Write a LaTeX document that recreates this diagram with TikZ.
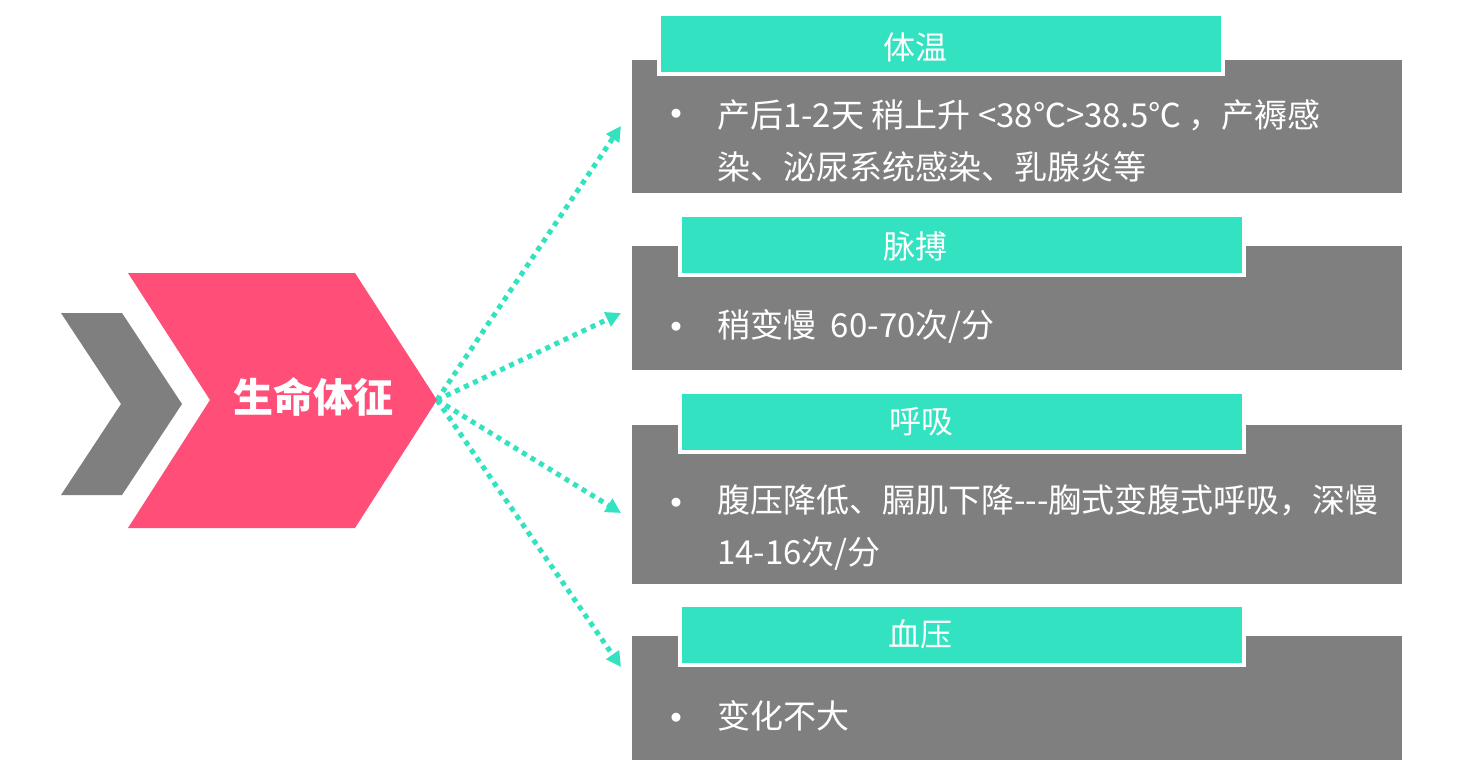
\documentclass[tikz,border=0pt]{standalone}
\usepackage{fontspec}
\setmainfont{Noto Sans CJK SC}
\usepackage{xcolor}
\definecolor{vitgray}{HTML}{7F7F7F}
\definecolor{vitteal}{HTML}{32E2C0}
\definecolor{vitpink}{HTML}{FF4F78}
\usepackage{tikz}
\usetikzlibrary{arrows.meta,positioning}

\begin{document}
\begin{tikzpicture}[x=1pt, y=-1pt,
      body/.style={fill=vitgray, anchor=north west, inner sep=0pt, outer sep=0pt,
                   minimum width=770pt},
      head/.style={fill=vitteal, draw=white, line width=4pt, anchor=north west,
                   inner sep=0pt, outer sep=0pt, minimum width=564pt, minimum height=60pt},
      ttl/.style={text=white, inner sep=0pt, font=\fontsize{32}{38}\selectfont},
      txt/.style={text=white, anchor=west, align=left, inner sep=0pt,
                  font=\fontsize{33}{52}\selectfont},
      bul/.style={text=white, inner sep=0pt, font=\fontsize{10}{10}\selectfont},
      arr/.style={-{Triangle[length=15pt,width=15pt]}, line width=5pt,
                  dash pattern=on 5pt off 5pt, color=vitteal}
  ]
    \fill[white] (0,0) rectangle (1462,777);
    \useasboundingbox (0,0) rectangle (1462,777);
    \fill[vitgray] (61,313) -- (122,313) -- (182,404) -- (122,495) -- (61,495) -- (121,404) -- cycle;
    \coordinate (tip) at (437,400);
    \coordinate (e1) at (621,126); \coordinate (e2) at (621,313);
    \coordinate (e3) at (621,513); \coordinate (e4) at (621,667);
    \draw[arr] (tip)--(e1); \draw[arr] (tip)--(e2); \draw[arr] (tip)--(e3); \draw[arr] (tip)--(e4);
    \fill[vitpink] (128,273) -- (355,273) -- (tip) -- (355,528) -- (128,528) -- (210,400) -- cycle;
    \node[text=white, font=\fontsize{40}{44}\selectfont\bfseries] (vital) at (313,397) {生命体征};

    \node[body, minimum height=133pt] (b1) at (632,60) {};
    \node[head] (h1) at (659,14) {};
    \node[ttl] (t1) at (915,47) {体温};
    \node[bul] (d1) at (676,114) {●};
    \node[txt] (x1) at (717,140.5) {产后1-2天 稍上升 <38℃>38.5℃ ，产褥感\\染、泌尿系统感染、乳腺炎等};

    \node[body, minimum height=124pt] (b2) at (632,246) {};
    \node[head] (h2) at (680,215) {};
    \node[ttl] (t2) at (915,246) {脉搏};
    \node[bul] (d2) at (676,327) {●};
    \node[txt] (x2) at (717,326) {稍变慢\ \ 60-70次/分};

    \node[body, minimum height=159pt] (b3) at (632,425) {};
    \node[head] (h3) at (680,392) {};
    \node[ttl] (t3) at (921,422) {呼吸};
    \node[bul] (d3) at (676,503) {●};
    \node[txt] (x3) at (717,527.5) {腹压降低、膈肌下降-\kern0pt-\kern0pt-胸式变腹式呼吸，深慢\\14-16次/分};

    \node[body, minimum height=124pt] (b4) at (632,636) {};
    \node[head] (h4) at (680,605) {};
    \node[ttl] (t4) at (920,634) {血压};
    \node[bul] (d4) at (676,718) {●};
    \node[txt] (x4) at (717,716) {变化不大};
  \end{tikzpicture}
\end{document}
